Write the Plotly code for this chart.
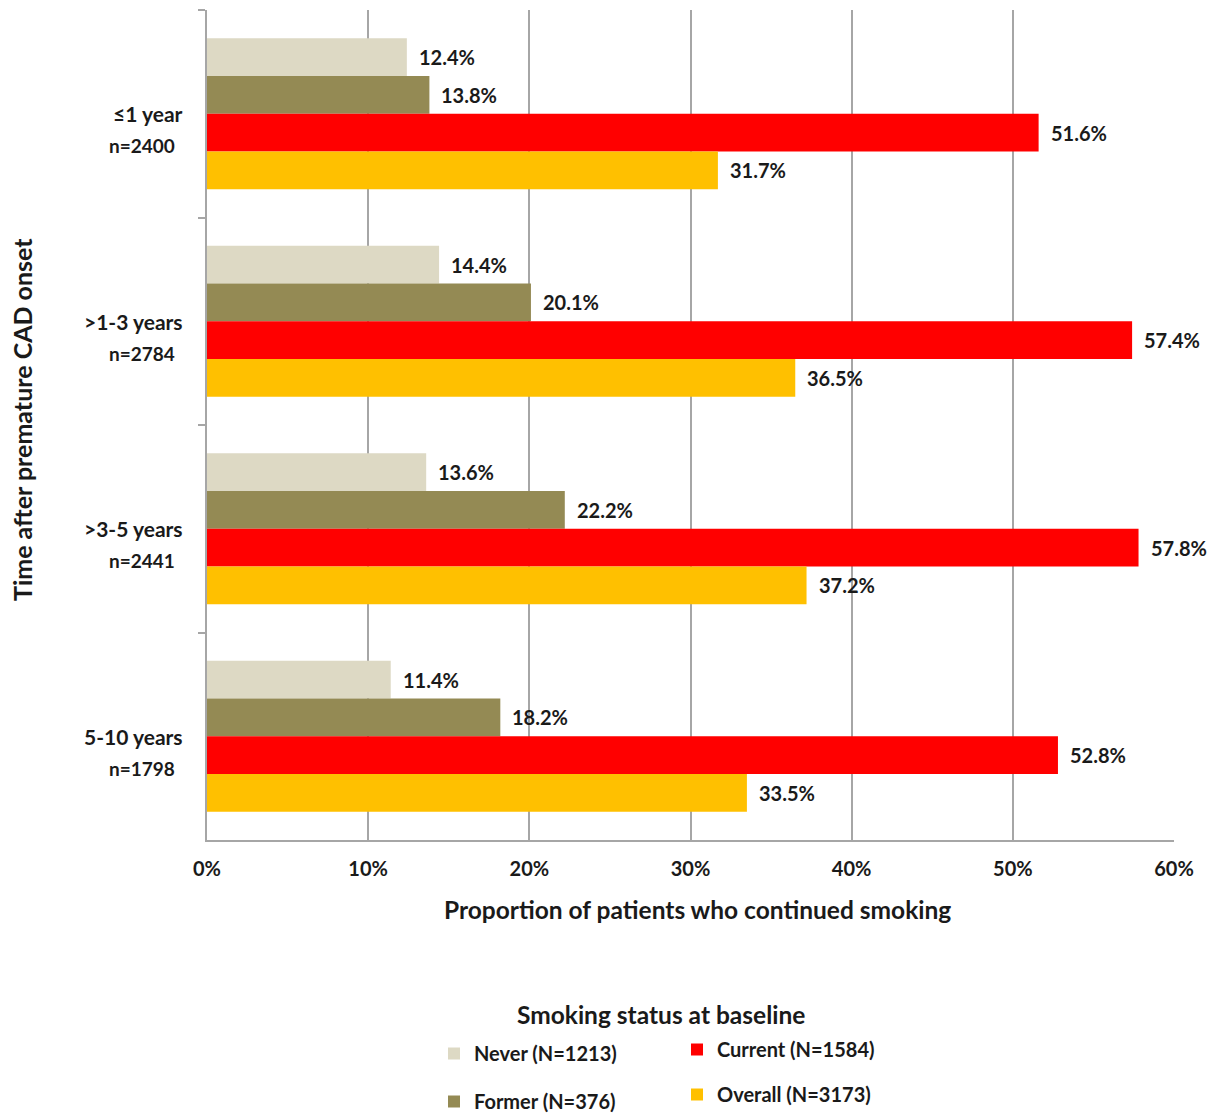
import plotly.graph_objects as go

categories = ["≤1 year", ">1-3 years", ">3-5 years", "5-10 years"]
n_labels = ["n=2400", "n=2784", "n=2441", "n=1798"]
series_names = ["Never (N=1213)", "Former (N=376)", "Current (N=1584)", "Overall (N=3173)"]
never = [12.4, 14.4, 13.6, 11.4]
former = [13.8, 20.1, 22.2, 18.2]
current = [51.6, 57.4, 57.8, 52.8]
overall = [31.7, 36.5, 37.2, 33.5]
x_ticks = [0, 10, 20, 30, 40, 50, 60]

colors = ["#DDD9C4", "#948A54", "#FF0000", "#FFC000"]
series = [never, former, current, overall]
legend_ids = ["legend", "legend", "legend2", "legend2"]

FONT = "Lato"
TXT = "#1a1a1a"
OFF = 8  # page body margin
W, H = 1210, 1113
ML, MR, MT, MB = 199, 44, 2, 281
PW = W - ML - MR
PH = H - MT - MB
bargap = 0.272


def px_x(p):
    return (p - OFF - ML) / PW


def px_y(p):
    return (MT + PH - (p - OFF)) / PH


def cy(p):
    return 1 - (p - OFF) / H


fig = go.Figure()
for name, vals, col, lg in zip(series_names, series, colors, legend_ids):
    fig.add_trace(go.Bar(
        y=categories, x=vals, orientation="h", name=f"<b>{name}</b>",
        marker=dict(color=col, line=dict(width=0)),
        legend=lg, legendgroup=name, hoverinfo="x+name",
    ))

# data labels
cat_px = PH / len(categories)
bar_px = cat_px * (1 - bargap) / len(series)
annotations = []
for si, vals in enumerate(series):
    shift = (1.5 - si) * bar_px
    for cat, v in zip(categories, vals):
        annotations.append(dict(
            x=v, y=cat, xref="x", yref="y", text=f"<b>{v:.1f}%</b>",
            showarrow=False, xanchor="left", yanchor="middle",
            xshift=10, yshift=shift,
            font=dict(family=FONT, size=20, color=TXT),
        ))

# category labels (two lines)
for cat, nl in zip(categories, n_labels):
    annotations.append(dict(
        x=0, y=cat, xref="paper", yref="y", text=f"<b>{cat}</b>",
        showarrow=False, xanchor="right", yanchor="middle",
        xshift=-22, yshift=0,
        font=dict(family=FONT, size=21, color=TXT),
    ))
    annotations.append(dict(
        x=0, y=cat, xref="paper", yref="y", text=f"<b>{nl}</b>",
        showarrow=False, xanchor="center", yanchor="middle",
        xshift=-65, yshift=-32,
        font=dict(family=FONT, size=19, color=TXT),
    ))

# axis titles
annotations.append(dict(
    x=px_x(697), y=px_y(909), xref="paper", yref="paper",
    text="<b>Proportion of patients who continued smoking</b>", showarrow=False,
    xanchor="center", yanchor="middle",
    font=dict(family=FONT, size=24.5, color=TXT),
))
annotations.append(dict(
    x=px_x(22), y=px_y(420), xref="paper", yref="paper",
    text="<b>Time after premature CAD onset</b>", showarrow=False, textangle=-90,
    xanchor="center", yanchor="middle",
    font=dict(family=FONT, size=25, color=TXT),
))
# legend title
annotations.append(dict(
    x=px_x(661), y=px_y(1014), xref="paper", yref="paper",
    text="<b>Smoking status at baseline</b>", showarrow=False,
    xanchor="center", yanchor="middle",
    font=dict(family=FONT, size=24.5, color=TXT),
))

fig.update_layout(
    width=W, height=H,
    margin=dict(l=ML, r=MR, t=MT, b=MB),
    paper_bgcolor="white", plot_bgcolor="white",
    barmode="group", bargap=bargap, bargroupgap=0,
    font=dict(family=FONT, color=TXT),
    annotations=annotations,
    xaxis=dict(
        range=[0, 60], tickvals=x_ticks, ticktext=[f"<b>{t}%</b>" for t in x_ticks],
        tickfont=dict(family=FONT, size=20, color=TXT),
        showgrid=True, gridcolor="#A6A6A6", gridwidth=1.5,
        showline=True, linecolor="#A6A6A6", linewidth=1.5,
        ticks="", zeroline=False, ticklabelstandoff=10,
        automargin=False,
    ),
    yaxis=dict(
        categoryorder="array", categoryarray=categories, autorange="reversed",
        showticklabels=False, showgrid=False,
        showline=True, linecolor="#A6A6A6", linewidth=1.5,
        ticks="outside", tickson="boundaries", ticklen=7, tickcolor="#A6A6A6", tickwidth=1.5,
        automargin=False,
    ),
    legend=dict(
        xref="paper", yref="container",
        x=px_x(434), y=cy(1034), xanchor="left", yanchor="top",
        orientation="v", traceorder="grouped", tracegroupgap=19,
        font=dict(family=FONT, size=20, color=TXT), itemwidth=30,
        bgcolor="rgba(0,0,0,0)",
    ),
    legend2=dict(
        xref="paper", yref="container",
        x=px_x(677), y=cy(1030), xanchor="left", yanchor="top",
        orientation="v", traceorder="grouped", tracegroupgap=16,
        font=dict(family=FONT, size=20, color=TXT), itemwidth=30,
        bgcolor="rgba(0,0,0,0)",
    ),
    showlegend=True,
)

fig.write_html("out.html")
